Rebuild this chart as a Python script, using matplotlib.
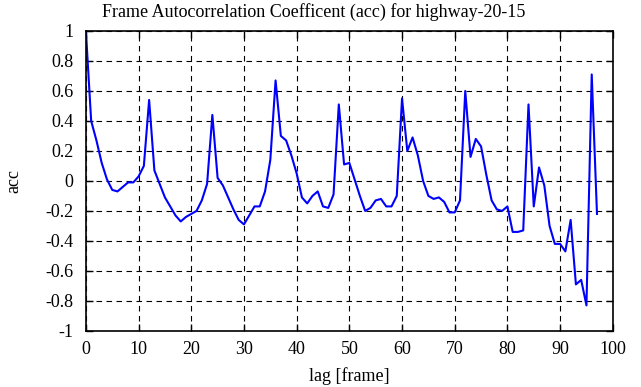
import matplotlib
matplotlib.use('Agg')
import matplotlib.pyplot as plt

# Autocorrelation coefficient per lag
lag = list(range(98))
acc = [1.00, 0.40, 0.27, 0.12, 0.01, -0.06, -0.07, -0.04, -0.01, -0.01,
       0.03, 0.10, 0.54, 0.07, -0.02, -0.11, -0.17, -0.23, -0.27, -0.24,
       -0.22, -0.20, -0.13, -0.02, 0.44, 0.02, -0.03, -0.11, -0.19, -0.26,
       -0.29, -0.23, -0.17, -0.17, -0.07, 0.14, 0.67, 0.30, 0.27, 0.17,
       0.05, -0.11, -0.15, -0.10, -0.07, -0.17, -0.18, -0.09, 0.51, 0.11,
       0.12, 0.01, -0.10, -0.20, -0.18, -0.13, -0.12, -0.17, -0.17, -0.10,
       0.55, 0.20, 0.29, 0.17, 0.00, -0.10, -0.12, -0.11, -0.14, -0.21,
       -0.21, -0.13, 0.60, 0.16, 0.28, 0.23, 0.04, -0.13, -0.19, -0.20,
       -0.17, -0.34, -0.34, -0.33, 0.51, -0.17, 0.09, -0.03, -0.30, -0.42,
       -0.42, -0.47, -0.26, -0.69, -0.66, -0.83, 0.71, -0.22]

x_ticks = list(range(0, 101, 10))
y_ticks = [1, 0.8, 0.6, 0.4, 0.2, 0, -0.2, -0.4, -0.6, -0.8, -1]
y_tick_labels = ['1', '0.8', '0.6', '0.4', '0.2', '0', '-0.2', '-0.4', '-0.6', '-0.8', '-1']

plt.rcParams['font.family'] = ['Liberation Serif', 'DejaVu Serif']
plt.rcParams['font.size'] = 13

fig = plt.figure(figsize=(6.41, 3.87), dpi=100)
ax = fig.add_axes([0.134, 0.145, 0.822, 0.775])

ax.plot(lag, acc, color='#0000ff', linewidth=1.5)

ax.set_xlim(0, 100)
ax.set_ylim(-1, 1)
ax.set_xticks(x_ticks)
ax.set_yticks(y_ticks)
ax.set_yticklabels(y_tick_labels)
ax.tick_params(direction='in', top=True, right=True, length=5, width=1.0,
               labelsize=13)
ax.tick_params(axis='y', pad=9)
ax.tick_params(axis='x', pad=7)
for spine in ax.spines.values():
    spine.set_linewidth(1.2)
ax.grid(True, color='black', linestyle=(0, (5, 4)), linewidth=0.8)

fig.text(0.49, 0.968, 'Frame Autocorrelation Coefficent (acc) for highway-20-15',
         ha='center', va='center', fontsize=13)
ax.set_xlabel('lag [frame]')
ax.xaxis.set_label_coords(0.5, -0.12)
ax.set_ylabel('acc')
ax.yaxis.set_label_coords(-0.12, 0.5)

fig.savefig('out.png', dpi=100)
